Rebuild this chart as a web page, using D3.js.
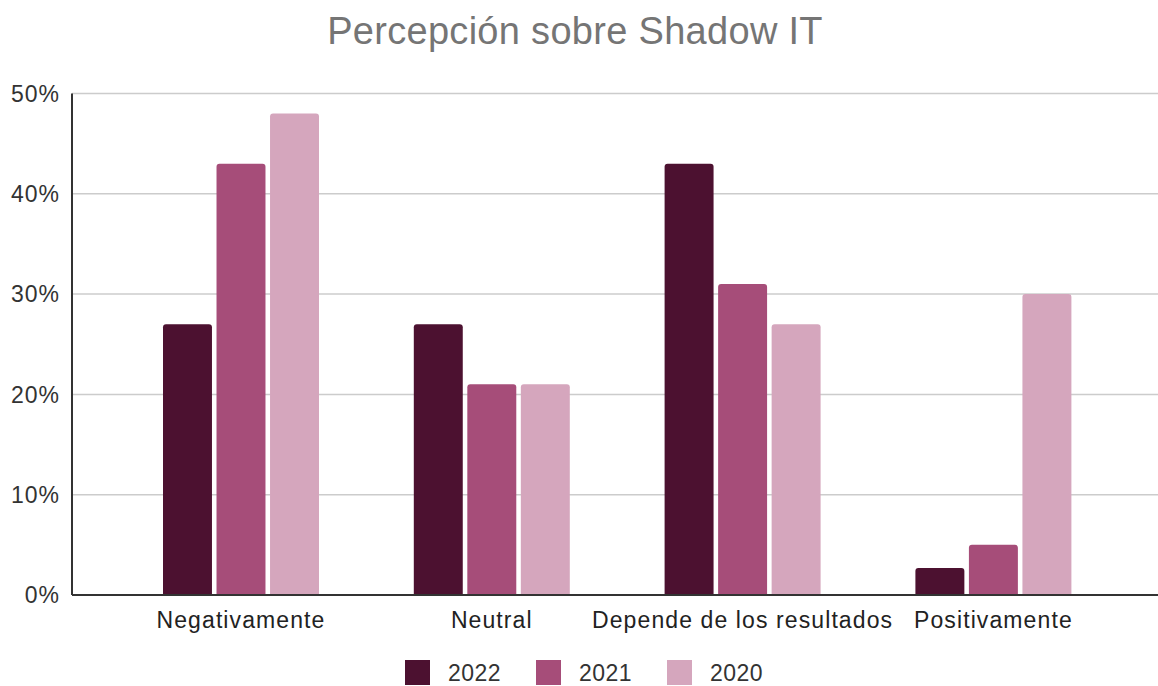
<!DOCTYPE html>
<html>
<head>
<meta charset="utf-8">
<script src="https://cdn.jsdelivr.net/npm/d3@7"></script>
<style>
  body { margin: 0; background: #fff; }
  text { font-family: Arial, "Liberation Sans", sans-serif; }
</style>
</head>
<body>
<div id="wrap"></div>
<script>
// data
var categories = ["Negativamente", "Neutral", "Depende de los resultados", "Positivamente"];
var years = ["2022", "2021", "2020"];
var v2022 = [27, 27, 43, 2.7];
var v2021 = [43, 21, 31, 5];
var v2020 = [48, 21, 27, 30];
var yTicks = [0, 10, 20, 30, 40, 50];
var colors = ["#4c1130", "#a64d79", "#d5a6bd"];

var seriesValues = [v2022, v2021, v2020];

var width = 1158,
    height = 686,
    plotLeft = 72,
    plotRight = 1158,
    plotTop = 93.5,
    plotBottom = 595;

var svg = d3.select('#wrap').append('svg')
      .attr('width', width)
      .attr('height', height);

//scales
var y = d3.scaleLinear().domain([0, 50]).range([plotBottom, plotTop]);
var x0 = d3.scaleBand().domain(categories)
      .range([115.6, 1118.8])
      .paddingInner(0.378)
      .paddingOuter(0.189);
var x1 = d3.scaleBand().domain(years)
      .range([0, x0.bandwidth()])
      .paddingInner(0.085);
var color = d3.scaleOrdinal().domain(years).range(colors);

//title
svg.append('text')
  .attr('x', 575)
  .attr('y', 44)
  .attr('text-anchor', 'middle')
  .style('font-size', '38px')
  .style('letter-spacing', '0.3px')
  .style('fill', '#757575')
  .text('Percepción sobre Shadow IT');

//gridlines
svg.append('g').selectAll('line')
  .data(yTicks.filter(function(d){ return d > 0; }))
  .enter().append('line')
    .attr('x1', plotLeft).attr('x2', plotRight)
    .attr('y1', function(d){ return y(d); })
    .attr('y2', function(d){ return y(d); })
    .style('stroke', '#cccccc')
    .style('stroke-width', '1.5px');

//y labels
svg.append('g').selectAll('text')
  .data(yTicks)
  .enter().append('text')
    .attr('x', 60)
    .attr('y', function(d){ return y(d); })
    .attr('dy', '0.36em')
    .attr('text-anchor', 'end')
    .style('font-size', '23px')
    .style('letter-spacing', '1px')
    .style('fill', '#333')
    .text(function(d){ return d + '%'; });

//bars, top corners rounded
function barPath(x, yTop, w, h, r) {
  r = Math.min(r, h);
  return 'M' + x + ',' + (yTop + h) +
    'V' + (yTop + r) +
    'Q' + x + ',' + yTop + ' ' + (x + r) + ',' + yTop +
    'H' + (x + w - r) +
    'Q' + (x + w) + ',' + yTop + ' ' + (x + w) + ',' + (yTop + r) +
    'V' + (yTop + h) + 'Z';
}

var groups = svg.append('g').selectAll('g')
  .data(categories)
  .enter().append('g')
    .attr('transform', function(d){ return 'translate(' + x0(d) + ',0)'; });

groups.selectAll('path')
  .data(function(d, i){
    return years.map(function(yr, j){ return {year: yr, value: seriesValues[j][i]}; });
  })
  .enter().append('path')
    .attr('d', function(d){
      return barPath(x1(d.year), y(d.value), x1.bandwidth(), y(0) - y(d.value), 3);
    })
    .style('fill', function(d){ return color(d.year); });

//axes lines
svg.append('line')
  .attr('x1', plotLeft).attr('x2', plotRight)
  .attr('y1', y(0)).attr('y2', y(0))
  .style('stroke', '#333').style('stroke-width', '2px');
svg.append('line')
  .attr('x1', plotLeft).attr('x2', plotLeft)
  .attr('y1', plotTop).attr('y2', y(0))
  .style('stroke', '#333').style('stroke-width', '2px');

//category labels
svg.append('g').selectAll('text')
  .data(categories)
  .enter().append('text')
    .attr('x', function(d){ return x0(d) + x0.bandwidth() / 2; })
    .attr('y', 628)
    .attr('text-anchor', 'middle')
    .style('font-size', '23px')
    .style('letter-spacing', '1.1px')
    .style('fill', '#222')
    .text(function(d){ return d; });

//legend
var legend = svg.append('g').selectAll('g')
  .data(years)
  .enter().append('g')
    .attr('transform', function(d, i){ return 'translate(' + (405 + i * 131) + ',660)'; });
legend.append('rect')
  .attr('width', 25).attr('height', 25)
  .style('fill', function(d){ return color(d); });
legend.append('text')
  .attr('x', 43).attr('y', 21)
  .style('font-size', '23px')
  .style('letter-spacing', '0.5px')
  .style('fill', '#333')
  .text(function(d){ return d; });
</script>
</body>
</html>
